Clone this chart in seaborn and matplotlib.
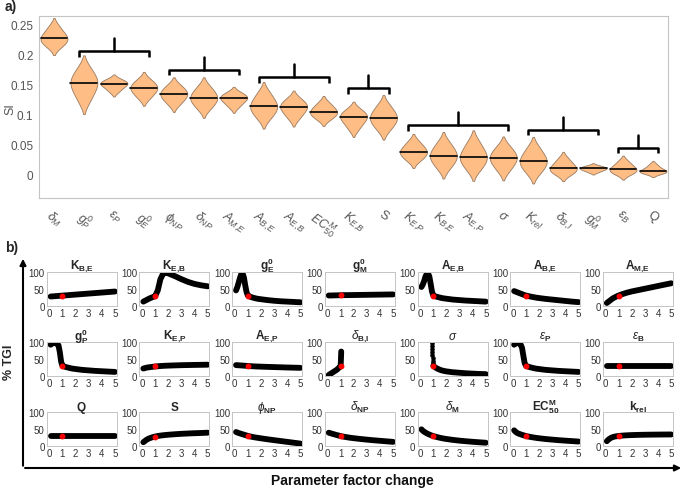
import numpy as np
import pandas as pd
import matplotlib
matplotlib.use("Agg")
import matplotlib.pyplot as plt
import seaborn as sns

sns.set_style("white")
plt.rcParams['font.family'] = ['Liberation Sans', 'DejaVu Sans']
plt.rcParams['mathtext.fontset'] = 'custom'
plt.rcParams['mathtext.rm'] = 'Liberation Sans'
plt.rcParams['mathtext.it'] = 'Liberation Sans:italic'
plt.rcParams['mathtext.bf'] = 'Liberation Sans:bold'

# ---- panel a) sensitivity index samples (read off the violins) ----
params = ['dM', 'g0P', 'eP', 'g0E', 'phiNP', 'dNP', 'AME', 'ABE', 'AEB', 'EC50',
          'KEB', 'S', 'KEP', 'KBE', 'AEP', 'sigma', 'krel', 'dBI', 'g0M', 'eB', 'Q']
param_labels = [r'$\delta_M$', r'$g^0_P$', r'$\epsilon_P$', r'$g^0_E$', r'$\phi_{NP}$',
                r'$\delta_{NP}$', r'$A_{M{,}E}$', r'$A_{B{,}E}$', r'$A_{E{,}B}$', r'$EC^M_{50}$',
                r'$K_{E{,}B}$', 'S', r'$K_{E{,}P}$', r'$K_{B{,}E}$', r'$A_{E{,}P}$', r'$\sigma$',
                r'$K_{rel}$', r'$\delta_{B{,}I}$', r'$g^0_M$', r'$\epsilon_B$', 'Q']

si_dM = [0.211, 0.2165, 0.220, 0.223, 0.2256, 0.228, 0.231, 0.234, 0.238, 0.243, 0.250]
si_g0P = [0.119, 0.129, 0.1365, 0.1426, 0.1473, 0.152, 0.156, 0.160, 0.1655, 0.1717, 0.1807]
si_eP = [0.137, 0.1414, 0.1444, 0.147, 0.149, 0.151, 0.1523, 0.1536, 0.1553, 0.1572, 0.1601]
si_g0E = [0.1251, 0.131, 0.1351, 0.1386, 0.1413, 0.144, 0.1464, 0.1488, 0.1519, 0.1555, 0.1608]
si_phiNP = [0.1151, 0.121, 0.1251, 0.1286, 0.1313, 0.134, 0.1365, 0.139, 0.1423, 0.146, 0.1515]
si_dNP = [0.107, 0.1136, 0.1181, 0.122, 0.125, 0.128, 0.1311, 0.1342, 0.1382, 0.1429, 0.1497]
si_AME = [0.1109, 0.116, 0.1194, 0.1224, 0.1247, 0.127, 0.1286, 0.1302, 0.1323, 0.1347, 0.1382]
si_ABE = [0.0909, 0.0982, 0.1031, 0.1074, 0.1107, 0.114, 0.1177, 0.1214, 0.1262, 0.1318, 0.1399]
si_AEB = [0.091, 0.0976, 0.1021, 0.106, 0.109, 0.112, 0.1144, 0.1168, 0.1199, 0.1235, 0.1288]
si_EC50 = [0.0901, 0.0947, 0.0977, 0.1004, 0.1024, 0.1045, 0.107, 0.1094, 0.1126, 0.1163, 0.1217]
si_KEB = [0.0733, 0.0801, 0.0848, 0.0888, 0.0919, 0.095, 0.0972, 0.0994, 0.1023, 0.1056, 0.1104]
si_S = [0.0717, 0.0789, 0.0838, 0.088, 0.0912, 0.0945, 0.098, 0.1014, 0.1059, 0.1111, 0.1187]
si_KEP = [0.021, 0.0262, 0.0297, 0.0328, 0.0351, 0.0375, 0.0403, 0.043, 0.0466, 0.0507, 0.0568]
si_KBE = [0.0072, 0.0147, 0.0198, 0.0242, 0.0276, 0.031, 0.0346, 0.0382, 0.0429, 0.0483, 0.0562]
si_AEP = [0.0045, 0.0122, 0.0174, 0.022, 0.0255, 0.029, 0.0331, 0.0372, 0.0425, 0.0487, 0.0577]
si_sigma = [0.0032, 0.0107, 0.0158, 0.0202, 0.0236, 0.027, 0.0302, 0.0334, 0.0376, 0.0424, 0.0494]
si_krel = [-0.0011, 0.0062, 0.0111, 0.0154, 0.0187, 0.022, 0.0257, 0.0294, 0.0342, 0.0398, 0.0479]
si_dBI = [-0.0026, 0.0014, 0.0041, 0.0064, 0.0082, 0.010, 0.0126, 0.0152, 0.0186, 0.0225, 0.0282]
si_g0M = [0.0029, 0.005, 0.0064, 0.0077, 0.0086, 0.0096, 0.0103, 0.0111, 0.012, 0.0132, 0.0148]
si_eB = [-0.0017, 0.0015, 0.0036, 0.0055, 0.007, 0.0084, 0.0106, 0.0127, 0.0155, 0.0188, 0.0235]
si_Q = [0.0002, 0.0019, 0.003, 0.004, 0.0047, 0.0055, 0.0072, 0.0088, 0.0109, 0.0134, 0.0171]

si_samples = [si_dM, si_g0P, si_eP, si_g0E, si_phiNP, si_dNP, si_AME, si_ABE, si_AEB, si_EC50,
              si_KEB, si_S, si_KEP, si_KBE, si_AEP, si_sigma, si_krel, si_dBI, si_g0M, si_eB, si_Q]

# brackets grouping parameters: first index, last index, bar height
bracket_first = [1, 4, 7, 10, 12, 16, 19]
bracket_last = [3, 6, 9, 11, 15, 18, 20]
bracket_y = [0.206, 0.175, 0.162, 0.144, 0.082, 0.074, 0.044]

# ---- panel b) %TGI vs parameter factor change ----
fx = [0.1, 0.2, 0.3, 0.4, 0.5, 0.6, 0.7, 0.8, 0.9, 1.0, 1.2, 1.4, 1.6, 1.8, 2.0,
      2.5, 3.0, 3.5, 4.0, 4.5, 5.0]
nan = np.nan
tgi_KBE = [27, 27.3, 27.6, 27.9, 28.2, 28.5, 28.8, 29.1, 29.4, 29.7, 30.3, 30.9, 31.5, 32.1,
           32.7, 34.2, 35.7, 37.2, 38.7, 40.2, 41.7]
tgi_KEB = [12, 14, 16, 18, 20, 22, 23.5, 25, 26.5, 28, 45, 78, 94, 97, 95, 87, 78, 70, 64, 60, 57]
tgi_g0E = [45, 55, 68, 82, 93, 95, 83, 60, 40, 30, 26, 23.5, 21.5, 20, 19, 16.5, 14.5, 13, 12, 11, 10]
tgi_g0M = [30, 30, 30, 30.2, 30.3, 30.4, 30.5, 30.6, 30.7, 30.8, 31, 31.1, 31.2, 31.3, 31.4,
           31.7, 32, 32.3, 32.6, 32.9, 33.2]
tgi_AEB = [55, 62, 72, 85, 93, 95, 86, 65, 42, 30, 27, 25, 23, 21.5, 20.5, 18, 16.5, 15, 14, 13, 12]
tgi_ABE = [43, 41.5, 40, 38.5, 37, 35.5, 34, 32.5, 31, 30, 28, 26.5, 25, 23.5, 22.5, 20, 18, 16,
           14, 12, 10.5]
tgi_AME = [8, 11, 14, 17, 20, 22.5, 24.5, 26.5, 28.3, 30, 33, 35.5, 38, 40, 42, 46, 50, 54, 58, 62, 66]
tgi_g0P = [92, 95, 97, 97, 96, 94, 90, 70, 42, 30, 27, 25, 23, 21.5, 20.5, 18, 16.5, 15, 14, 13, 12]
tgi_KEP = [22, 23, 24, 25, 25.5, 26, 26.5, 27, 27.5, 28, 28.7, 29.3, 29.8, 30.2, 30.5, 31.2,
           31.8, 32.2, 32.6, 32.9, 33.2]
tgi_AEP = [32, 31.8, 31.5, 31.2, 31, 30.7, 30.4, 30.1, 29.8, 29.5, 29, 28.5, 28.1, 27.8, 27.5,
           26.8, 26.2, 25.6, 25, 24.5, 24]
dBI_x = [0.1, 0.3, 0.5, 0.7, 0.9, 1.0, 1.02, 1.04, 1.05]
tgi_dBI = [3, 8, 13, 18, 25, 28, 40, 60, 72]
tgi_sigma = [nan, nan, nan, nan, nan, nan, nan, nan, nan, 30, 24, 20, 17, 15, 13.5, 11, 9.5,
             8, 7, 6, 5.5]
sigma_dot_x = [0.92, 0.92, 0.93, 0.93, 0.94, 0.95, 0.96, 0.97]
sigma_dot_y = [98, 89, 80, 71, 62, 53, 45, 38]
tgi_eP = [92, 95, 97, 97, 95, 92, 83, 60, 38, 30, 27, 25, 23, 21.5, 20.5, 18, 16.5, 15, 14, 13, 12]
tgi_eB = [30, 30, 30, 30, 30, 30, 30, 30, 30, 30, 30, 30, 30, 30, 30, 30, 30, 30, 30, 30, 30]
tgi_Q = [30, 30, 30, 30, 30, 30, 30, 30, 30, 30, 30, 30, 30, 30, 30, 30, 30, 30, 30, 30, 30]
tgi_S = [12, 15, 18, 20.5, 22.5, 24, 25.5, 26.7, 27.8, 28.7, 30.3, 31.5, 32.5, 33.3, 34, 35.5,
         36.7, 37.7, 38.5, 39.2, 40]
tgi_phiNP = [42, 40.5, 39, 37.8, 36.6, 35.4, 34.2, 33, 31.8, 30.7, 28.8, 27.2, 25.8, 24.6, 23.4,
             20.6, 18, 15.5, 13, 10.5, 8]
tgi_dNP = [40, 38.8, 37.6, 36.5, 35.4, 34.3, 33.2, 32.2, 31.2, 30.2, 28.6, 27.2, 25.9, 24.8, 23.8,
           21.6, 19.6, 17.8, 16.2, 14.6, 13]
tgi_dM = [50, 46, 43, 40.5, 38.3, 36.3, 34.6, 33, 31.5, 30.2, 28, 26, 24.3, 22.8, 21.5, 18.8,
          16.6, 14.8, 13.2, 11.8, 10.5]
tgi_EC50 = [47, 43, 40, 38, 36.4, 35, 33.7, 32.5, 31.4, 30.4, 28.6, 27.1, 25.8, 24.6, 23.6, 21.4,
            19.6, 18, 16.6, 15.3, 14]
tgi_krel = [15, 19, 22, 24.5, 26.3, 27.6, 28.6, 29.3, 29.9, 30.4, 31.2, 31.8, 32.3, 32.7, 33,
            33.6, 34, 34.3, 34.5, 34.7, 34.8]

panel_titles = [r'$\mathbf{K_{B{,}E}}$', r'$\mathbf{K_{E{,}B}}$', r'$\mathbf{g^0_E}$', r'$\mathbf{g^0_M}$',
                r'$\mathbf{A_{E{,}B}}$', r'$\mathbf{A_{B{,}E}}$', r'$\mathbf{A_{M{,}E}}$',
                r'$\mathbf{g^0_P}$', r'$\mathbf{K_{E{,}P}}$', r'$\mathbf{A_{E{,}P}}$',
                r'$\delta_\mathbf{B{,}I}$', r'$\sigma$', r'$\epsilon_\mathbf{P}$', r'$\epsilon_\mathbf{B}$',
                r'$\mathbf{Q}$', r'$\mathbf{S}$', r'$\phi_\mathbf{NP}$', r'$\delta_\mathbf{NP}$',
                r'$\delta_\mathbf{M}$', r'$\mathbf{EC^M_{50}}$', r'$\mathbf{k_{rel}}$']
panel_x = [fx, fx, fx, fx, fx, fx, fx, fx, fx, fx, dBI_x, fx, fx, fx, fx, fx, fx, fx, fx, fx, fx]
panel_y = [tgi_KBE, tgi_KEB, tgi_g0E, tgi_g0M, tgi_AEB, tgi_ABE, tgi_AME,
           tgi_g0P, tgi_KEP, tgi_AEP, tgi_dBI, tgi_sigma, tgi_eP, tgi_eB,
           tgi_Q, tgi_S, tgi_phiNP, tgi_dNP, tgi_dM, tgi_EC50, tgi_krel]

# ---------------------------------------------------------------
W, H = 685, 489
fig = plt.figure(figsize=(6.85, 4.89), dpi=100)


def box(x0, y0, x1, y1):
    return [x0 / W, 1 - y1 / H, (x1 - x0) / W, (y1 - y0) / H]


gray_spine = '#c4c4c4'

# panel a
ax = fig.add_axes(box(39, 17, 668, 199))
df = pd.DataFrame({'param': [p for p, s in zip(params, si_samples) for _ in s],
                   'SI': [v for s in si_samples for v in s]})
sns.violinplot(data=df, x='param', y='SI', order=params, inner=None, cut=1.6,
               density_norm='width', width=0.9, color='#fdbd84', saturation=1,
               linecolor='#9a7a60', linewidth=0.6, bw_adjust=1.0, ax=ax)

medians = df.groupby('param')['SI'].median().reindex(params).values
for coll, med in zip(ax.collections, medians):
    verts = coll.get_paths()[0].vertices
    xs = []
    for (x0, y0), (x1, y1) in zip(verts[:-1], verts[1:]):
        if (y0 - med) * (y1 - med) <= 0 and y0 != y1:
            xs.append(x0 + (med - y0) * (x1 - x0) / (y1 - y0))
    if xs:
        ax.plot([min(xs), max(xs)], [med, med], color='black', lw=1.2, zorder=5)

for a, b, y in zip(bracket_first, bracket_last, bracket_y):
    ax.plot([a - 0.17, a - 0.17, b + 0.17, b + 0.17], [y - 0.009, y, y, y - 0.009],
            color='black', lw=1.8, solid_joinstyle='round', solid_capstyle='butt')
    ax.plot([(a + b) / 2, (a + b) / 2], [y, y + 0.022], color='black', lw=1.8)

ax.set_xlim(-0.5, 20.5)
ax.set_ylim(-0.04, 0.265)
ax.set_yticks([0, 0.05, 0.1, 0.15, 0.2, 0.25])
ax.set_yticklabels(['0', '0.05', '0.1', '0.15', '0.2', '0.25'])
ax.set_xticks(range(len(params)))
ax.set_xticklabels(param_labels, rotation=-35, ha='center', color='#555555', fontsize=9)
ax.tick_params(axis='both', length=0, labelsize=8.5, colors='#555555', pad=4)
ax.tick_params(axis='x', pad=7, labelsize=9)
ax.set_xlabel('')
ax.set_ylabel('')
for sp in ax.spines.values():
    sp.set_color(gray_spine)
    sp.set_linewidth(0.8)

# panel b
for i, (title, xv, yv) in enumerate(zip(panel_titles, panel_x, panel_y)):
    r, c = divmod(i, 7)
    left = 46.7 + 92.7 * c
    top = 272.7 + 70.3 * r
    pa = fig.add_axes(box(left, top, left + 70, top + 34))
    sns.lineplot(x=xv, y=yv, ax=pa, color='black', lw=4.2, sort=False,
                 estimator=None, solid_capstyle='round')
    if i == 11:
        pa.plot(sigma_dot_x, sigma_dot_y, 'o', color='black', ms=2.3)
    one = list(xv).index(1.0)
    pa.plot([1.0], [yv[one]], 'o', color='red', ms=3.2, zorder=6)
    pa.set_xlim(-0.2, 5.13)
    pa.set_ylim(0, 100)
    pa.set_xticks([0, 1, 2, 3, 4, 5])
    pa.set_yticks([0, 50, 100])
    pa.tick_params(length=0, labelsize=7, colors='#333333', pad=1.5)
    pa.set_title(title, fontsize=8.5, pad=2)
    for sp in pa.spines.values():
        sp.set_color(gray_spine)
        sp.set_linewidth(0.7)

# overlay for labels and arrows
ov = fig.add_axes([0, 0, 1, 1])
ov.axis('off')
ov.set_xlim(0, W)
ov.set_ylim(H, 0)
ov.annotate('', xy=(23, 257), xytext=(23, 469.5),
            arrowprops=dict(arrowstyle='-|>', color='black', lw=1.5, mutation_scale=9))
ov.annotate('', xy=(684, 469), xytext=(22.3, 469),
            arrowprops=dict(arrowstyle='-|>', color='black', lw=1.5, mutation_scale=9))
ov.text(9, 362, '% TGI', rotation=90, ha='center', va='center', fontsize=9, fontweight='bold')
ov.text(352, 481, 'Parameter factor change', ha='center', va='center', fontsize=10,
        fontweight='bold', color='#111111')
ov.text(5, 7, 'a)', ha='left', va='center', fontsize=10, fontweight='bold')
ov.text(5, 248, 'b)', ha='left', va='center', fontsize=10, fontweight='bold')
ov.text(10, 109, 'SI', rotation=90, ha='center', va='center', fontsize=9, color='#555555')

fig.savefig('out.png', dpi=100)
